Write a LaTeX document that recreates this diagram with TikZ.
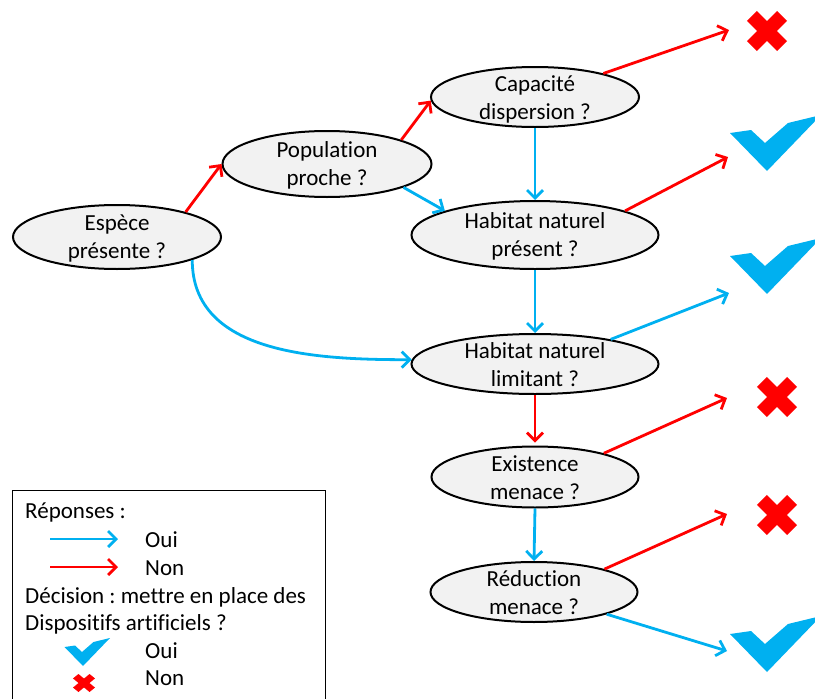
\documentclass[tikz,border=0pt]{standalone}
\usepackage{fontspec}
\setmainfont{Carlito}[Ligatures=NoCommon]
\usetikzlibrary{shapes.geometric,arrows.meta}
\definecolor{cblue}{HTML}{00B0F0}
\definecolor{cred}{HTML}{FF0000}
\definecolor{cfill}{HTML}{F2F2F2}
\frenchspacing
\begin{document}
\begin{tikzpicture}[x=1pt,y=1pt,
 ell/.style={ellipse, draw=black, line width=2pt, fill=cfill, inner sep=0pt},
 lbl/.style={font=\fontsize{23}{28}\selectfont, align=center, inner sep=0pt},
 ltxt/.style={font=\fontsize{23}{28}\selectfont, anchor=west, inner sep=0pt},
 arr/.style={line width=2.8pt, -{Straight Barb[length=8pt,width=16pt,line width=2.8pt]}},
 yes/.style={arr, draw=cblue},
 no/.style={arr, draw=cred},
 chk/.pic={\fill[cblue] (-37,38) -- (-16,41) -- (-2,28) -- (21,48) -- (54,56) -- (0,0) -- cycle;},
 xmk/.pic={\fill[cred,rotate=45] (-21.3,-7) rectangle (21.3,7);
           \fill[cred,rotate=-45] (-21.3,-7) rectangle (21.3,7);}]
\useasboundingbox (0,0) rectangle (815,-699);
\clip (0,0) rectangle (815,-699);

% decision nodes
\node[ell, minimum width=208pt, minimum height=64pt] (esp) at (117,-237) {};
\node[lbl] (espT) at (117,-238) {Espèce\\présente ?};
\node[ell, minimum width=209pt, minimum height=66pt] (pop) at (327,-164) {};
\node[lbl] (popT) at (327,-165) {Population\\proche ?};
\node[ell, minimum width=208pt, minimum height=60pt] (cap) at (535,-97) {};
\node[lbl] (capT) at (535,-99) {Capacité\\dispersion ?};
\node[ell, minimum width=247pt, minimum height=68pt] (hp) at (535,-235) {};
\node[lbl] (hpT) at (535,-236) {Habitat naturel\\présent ?};
\node[ell, minimum width=247pt, minimum height=60pt] (lim) at (535,-364) {};
\node[lbl] (limT) at (535,-365) {Habitat naturel\\limitant ?};
\node[ell, minimum width=207pt, minimum height=61pt] (ex) at (535,-477) {};
\node[lbl] (exT) at (535,-478) {Existence\\menace ?};
\node[ell, minimum width=207pt, minimum height=60pt] (red) at (534,-592) {};
\node[lbl] (redT) at (534,-593) {Réduction\\menace ?};

% outcome marks
\pic (x1) at (767,-31) {xmk};
\pic (c1) at (767,-171) {chk};
\pic (c2) at (767,-294) {chk};
\pic (x2) at (777,-397) {xmk};
\pic (x3) at (777,-515) {xmk};
\pic (c3) at (767,-672) {chk};

\coordinate (e1) at (729,-30);
\coordinate (e2) at (728,-157);
\coordinate (e3) at (729,-293);
\coordinate (e4) at (727,-398);
\coordinate (e5) at (727,-514);
\coordinate (e6) at (727,-651);

% connectors
\draw[no] (esp.20) -- (pop.180);
\draw[no] (pop.18) -- (cap.182);
\draw[yes] (pop.-17) -- (hp.165);
\draw[yes] (cap.south) -- (hp.north);
\draw[yes] (esp.-17) to[out=-90,in=180] (lim.178);
\draw[yes] (hp.south) -- (lim.north);
\draw[no, shorten >=3pt] (lim.south) -- (ex.north);
\draw[yes] (ex.south) -- (red.north);

\draw[no] (cap.19) -- (e1);
\draw[no] (hp.15) -- (e2);
\draw[yes] (lim.18) -- (e3);
\draw[no] (ex.19) -- (e4);
\draw[no] (red.18) -- (e5);
\draw[yes] (red.-17) -- (e6);

% legend
\node[draw, line width=1.2pt, anchor=north west, minimum width=313pt, minimum height=230pt, inner sep=0pt] (leg) at (12,-490) {};
\node[ltxt] (l1) at (25,-512) {Réponses :};
\coordinate (la) at (50,-539);
\coordinate (lb) at (118,-539);
\draw[yes] (la) -- (lb);
\node[ltxt] (l2) at (145,-540) {Oui};
\coordinate (lc) at (50,-567);
\coordinate (ld) at (118,-567);
\draw[no] (lc) -- (ld);
\node[ltxt] (l3) at (145,-568) {Non};
\node[ltxt] (l4) at (25,-597) {Décision : mettre en place des};
\node[ltxt] (l5) at (25,-624) {Dispositifs artificiels ?};
\pic[scale=0.5] (lc1) at (83,-666) {chk};
\node[ltxt] (l6) at (145,-651) {Oui};
\pic[xscale=0.55,yscale=0.45] (lx1) at (84,-683) {xmk};
\node[ltxt] (l7) at (145,-678) {Non};
\end{tikzpicture}
\end{document}
